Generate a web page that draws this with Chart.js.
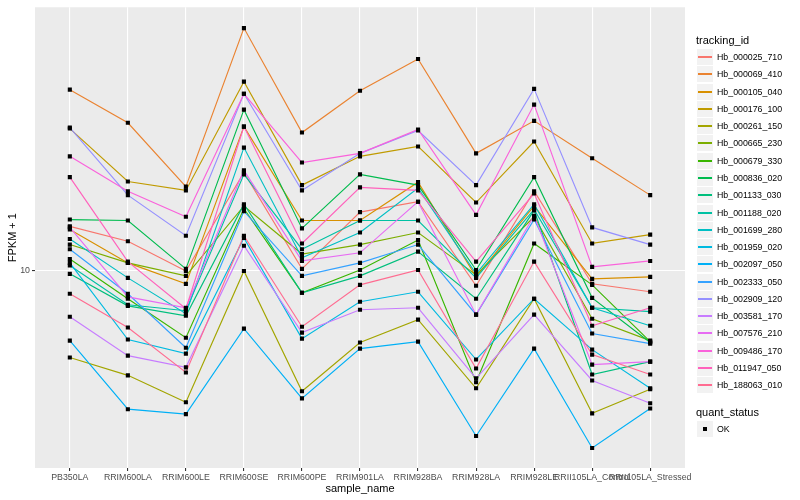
<!DOCTYPE html>
<html>
<head>
<meta charset="utf-8">
<script src="https://cdn.jsdelivr.net/npm/chart.js@4/dist/chart.umd.min.js"></script>
<style>
  html, body { margin: 0; padding: 0; background: #ffffff; }
  #wrap { position: relative; width: 800px; height: 500px; font-family: "Liberation Sans", Arial, Helvetica, sans-serif; }
  #c { position: absolute; left: 0; top: 0; }
  .lg-title { position: absolute; left: 696px; font-size: 11px; color: #000; line-height: 13px; white-space: nowrap; }
  .lg-key { position: absolute; left: 697px; width: 16px; height: 16px; background: #F2F2F2; }
  .lg-line { position: absolute; left: 1px; right: 1px; top: 7px; height: 2px; }
  .lg-sq { position: absolute; left: 6px; top: 6px; width: 4px; height: 4px; background: #000; }
  .lg-text { position: absolute; left: 717px; font-size: 8.8px; color: #000; line-height: 10px; white-space: nowrap; }
</style>
</head>
<body>
<div id="wrap">
  <canvas id="c" width="800" height="500"></canvas>
</div>
<script>
// ---- data ----
const categories = ["PB350LA", "RRIM600LA", "RRIM600LE", "RRIM600SE", "RRIM600PE", "RRIM901LA",
  "RRIM928BA", "RRIM928LA", "RRIM928LE", "RRII105LA_Control", "RRII105LA_Stressed"];

const trackingIds = ["Hb_000025_710", "Hb_000069_410", "Hb_000105_040", "Hb_000176_100", "Hb_000261_150",
  "Hb_000665_230", "Hb_000679_330", "Hb_000836_020", "Hb_001133_030", "Hb_001188_020",
  "Hb_001699_280", "Hb_001959_020", "Hb_002097_050", "Hb_002333_050", "Hb_002909_120",
  "Hb_003581_170", "Hb_007576_210", "Hb_009486_170", "Hb_011947_050", "Hb_188063_010"];

const Hb_000025_710 = [13.8, 12.4, 10.0, 20.4, 10.15, 15.3, 16.5, 8.98, 17.8, 9.11, 8.60];
const Hb_000069_410 = [37.1, 29.2, 18.4, 57.9, 27.2, 36.8, 46.3, 23.4, 29.6, 22.6, 17.3];
const Hb_000105_040 = [13.5, 10.6, 9.11, 28.4, 14.4, 14.4, 19.0, 9.58, 16.0, 9.44, 9.58];
const Hb_000176_100 = [28.0, 19.1, 17.9, 39.3, 18.6, 22.9, 24.6, 16.4, 25.5, 12.2, 13.0];
const Hb_000261_150 = [5.35, 4.70, 3.87, 10.0, 4.19, 5.96, 7.03, 4.28, 8.18, 3.57, 4.25];
const Hb_000665_230 = [12.1, 10.6, 9.65, 16.0, 11.3, 12.1, 13.2, 9.72, 14.8, 7.08, 6.04];
const Hb_000679_330 = [10.9, 8.18, 6.17, 15.7, 8.54, 10.07, 12.5, 4.47, 12.2, 9.04, 6.00];
const Hb_000836_020 = [14.5, 14.4, 10.15, 32.1, 13.6, 20.1, 18.6, 10.07, 19.7, 8.23, 5.96];
const Hb_001133_030 = [9.79, 7.77, 7.23, 16.2, 8.54, 9.65, 11.5, 8.18, 15.5, 4.73, 5.19];
const Hb_001188_020 = [10.4, 7.83, 7.50, 20.1, 11.7, 14.4, 14.4, 9.51, 15.6, 7.66, 7.45];
const Hb_001699_280 = [12.6, 9.51, 7.34, 24.4, 11.0, 13.2, 18.2, 9.79, 16.2, 7.66, 6.73];
const Hb_001959_020 = [10.6, 6.09, 5.50, 12.7, 6.13, 8.00, 8.60, 5.27, 8.18, 5.66, 4.28];
const Hb_002097_050 = [6.04, 3.68, 3.55, 6.59, 3.98, 5.70, 6.00, 3.03, 5.70, 2.78, 3.70];
const Hb_002333_050 = [11.7, 8.48, 5.74, 15.4, 9.65, 10.6, 12.1, 7.29, 14.5, 6.36, 5.91];
const Hb_002909_120 = [28.2, 17.3, 12.9, 36.0, 17.9, 23.4, 27.6, 18.6, 37.3, 13.7, 12.1];
const Hb_003581_170 = [7.18, 5.42, 4.98, 12.0, 6.40, 7.55, 7.66, 4.60, 7.29, 4.53, 3.84];
const Hb_007576_210 = [13.7, 8.29, 7.66, 20.7, 10.75, 11.4, 16.5, 7.29, 14.9, 5.08, 5.19];
const Hb_009486_170 = [22.9, 17.8, 14.8, 36.0, 21.9, 23.4, 27.8, 15.0, 33.3, 10.3, 10.75];
const Hb_011947_050 = [19.7, 10.7, 7.61, 28.4, 12.2, 18.3, 17.9, 10.7, 17.5, 6.73, 7.66];
const Hb_188063_010 = [8.48, 6.64, 4.80, 12.9, 6.68, 9.04, 10.07, 4.94, 10.7, 5.46, 4.73];

const seriesValues = [Hb_000025_710, Hb_000069_410, Hb_000105_040, Hb_000176_100, Hb_000261_150,
  Hb_000665_230, Hb_000679_330, Hb_000836_020, Hb_001133_030, Hb_001188_020,
  Hb_001699_280, Hb_001959_020, Hb_002097_050, Hb_002333_050, Hb_002909_120,
  Hb_003581_170, Hb_007576_210, Hb_009486_170, Hb_011947_050, Hb_188063_010];

const seriesColors = ["#F8766D", "#EA8331", "#D89000", "#C09B00", "#A3A500", "#7CAE00", "#39B600",
  "#00BB4E", "#00BF7D", "#00C1A3", "#00BFC4", "#00BAE0", "#00B0F6", "#35A2FF", "#9590FF",
  "#C77CFF", "#E76BF3", "#FA62DB", "#FF62BC", "#FF6C91"];

const yTickValues = [10];
const yMin = 2.405, yMax = 67.3;
const statusLevels = ["OK"];

// ---- datasets ----
const datasets = seriesValues.map((vals, s) => ({
  type: 'line',
  label: trackingIds[s],
  data: vals.map((v, i) => ({ x: i, y: v })),
  borderColor: seriesColors[s],
  backgroundColor: seriesColors[s],
  borderWidth: 1.15,
  pointRadius: 0,
  tension: 0,
  fill: false,
  order: -s
}));
const allPoints = [];
seriesValues.forEach(vals => vals.forEach((v, i) => allPoints.push({ x: i, y: v })));
datasets.push({
  type: 'scatter',
  label: 'quant_status: OK',
  data: allPoints,
  pointStyle: 'rect',
  pointRadius: 2.9,
  pointBorderWidth: 0,
  backgroundColor: '#000000',
  borderColor: '#000000',
  showLine: false,
  order: -100
});

const panelBg = {
  id: 'panelBg',
  beforeDraw(chart) {
    const a = chart.chartArea, ctx = chart.ctx;
    ctx.save();
    ctx.fillStyle = '#EBEBEB';
    ctx.fillRect(a.left, a.top, a.right - a.left, a.bottom - a.top);
    ctx.restore();
  }
};

const FONT = "'Liberation Sans', Arial, Helvetica, sans-serif";

new Chart(document.getElementById('c'), {
  data: { datasets },
  plugins: [panelBg],
  options: {
    responsive: false,
    animation: false,
    devicePixelRatio: 1,
    layout: { padding: { left: 0, right: 115, top: 5, bottom: 0 } },
    plugins: { legend: { display: false }, tooltip: { enabled: false } },
    scales: {
      x: {
        type: 'linear',
        min: -0.6,
        max: categories.length - 1 + 0.6,
        afterFit(s) { s.height = 32; },
        afterBuildTicks(s) { s.ticks = categories.map((c, i) => ({ value: i })); },
        ticks: {
          autoSkip: false, maxRotation: 0, minRotation: 0, padding: 1.5,
          color: '#4D4D4D', font: { family: FONT, size: 8.8 },
          callback: (v) => categories[v]
        },
        grid: { color: '#FFFFFF', lineWidth: 1.1, tickColor: '#333333', tickLength: 3, drawTicks: true },
        border: { display: false },
        title: { display: true, text: 'sample_name', color: '#000000', font: { family: FONT, size: 11 }, padding: { top: 4, bottom: 4 } }
      },
      y: {
        type: 'logarithmic',
        min: yMin,
        max: yMax,
        afterFit(s) { s.width = 35; },
        afterBuildTicks(s) { s.ticks = yTickValues.map(v => ({ value: v })); },
        ticks: {
          padding: 2, color: '#4D4D4D', font: { family: FONT, size: 8.8 },
          callback: (v) => String(v)
        },
        grid: { color: '#FFFFFF', lineWidth: 1.1, tickColor: '#333333', tickLength: 3, drawTicks: true },
        border: { display: false },
        title: { display: true, text: 'FPKM + 1', color: '#000000', font: { family: FONT, size: 11 }, padding: { top: 6, bottom: 6 } }
      }
    }
  }
});

// ---- legend (ggplot-style) ----
const wrap = document.getElementById('wrap');
function addEl(cls, css, text) {
  const d = document.createElement('div');
  d.className = cls;
  Object.assign(d.style, css);
  if (text !== undefined) d.textContent = text;
  wrap.appendChild(d);
  return d;
}
addEl('lg-title', { top: '34px' }, 'tracking_id');
trackingIds.forEach((id, i) => {
  const cy = Math.round(57 + 17.28 * i);
  const key = addEl('lg-key', { top: (cy - 8) + 'px' });
  const ln = document.createElement('div');
  ln.className = 'lg-line';
  ln.style.background = seriesColors[i];
  key.appendChild(ln);
  addEl('lg-text', { top: (cy - 5) + 'px' }, id);
});
addEl('lg-title', { top: '406px' }, 'quant_status');
statusLevels.forEach((lvl, i) => {
  const cy = Math.round(429 + 17.28 * i);
  const key = addEl('lg-key', { top: (cy - 8) + 'px' });
  const sq = document.createElement('div');
  sq.className = 'lg-sq';
  key.appendChild(sq);
  addEl('lg-text', { top: (cy - 5) + 'px' }, lvl);
});
</script>
</body>
</html>
